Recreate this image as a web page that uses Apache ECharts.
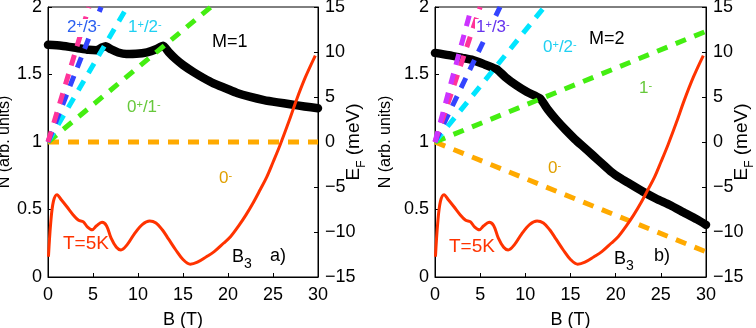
<!DOCTYPE html>
<html>
<head>
<meta charset="utf-8">
<script src="https://cdn.jsdelivr.net/npm/echarts@6/dist/echarts.min.js"></script>
<style>
    html, body { margin: 0; padding: 0; background: #fff; }
    #chart { width: 756px; height: 328px; }
</style>
</head>
<body>
<div id="chart"></div>
<script>
    // red curve, N (arb. units) at T=5K, same in both panels
    var bT5 = [0.05, 0.3, 0.6, 1.0, 1.5, 2.1, 2.8, 3.4, 3.9, 4.4, 4.9, 5.4, 6.0, 6.5, 7.0, 7.6, 8.1, 8.8, 9.6, 10.5,
        11.3, 12.0, 12.7, 13.4, 14.2, 15.0, 15.8, 16.6, 17.6, 18.5, 19.5, 20.3, 21.2, 22.0, 22.8, 23.6, 24.3, 25.0,
        25.8, 26.7, 27.6, 28.6, 29.7];
    var nT5 = [0.15, 0.40, 0.56, 0.61, 0.57, 0.52, 0.46, 0.42, 0.41, 0.37, 0.35, 0.38, 0.405, 0.38, 0.29, 0.22, 0.20,
        0.24, 0.32, 0.39, 0.415, 0.40, 0.35, 0.28, 0.20, 0.13, 0.095, 0.11, 0.15, 0.19, 0.25, 0.30, 0.38, 0.46, 0.55,
        0.65, 0.74, 0.85, 0.98, 1.14, 1.31, 1.48, 1.64];

    // black curve, E_F (meV), panel a (M=1)
    var bFermiA = [0, 1.5, 3.2, 4.5, 5.4, 6.0, 6.4, 7.0, 7.8, 8.7, 9.8, 11.0, 12.0, 12.8, 13.4, 14.2, 15.0, 16.2, 17.3,
        18.4, 19.8, 21.0, 22.4, 24.0, 25.5, 26.9, 28.5, 30];
    var eFermiA = [10.8, 10.7, 10.45, 10.25, 10.2, 10.5, 10.65, 10.3, 9.95, 9.78, 9.8, 9.97, 10.3, 10.7, 10.0, 9.2, 8.56,
        7.75, 7.1, 6.52, 5.95, 5.45, 5.03, 4.65, 4.4, 4.2, 3.95, 3.75];

    // black curve, E_F (meV), panel b (M=2)
    var bFermiB = [0, 1.5, 3.0, 4.2, 5.3, 6.4, 6.9, 7.8, 9.0, 10.2, 11.6, 12.5, 13.4, 14.5, 15.5, 16.5, 17.5, 18.5,
        19.5, 20.5, 21.5, 23.0, 24.5, 26.0, 27.5, 29.0, 30];
    var eFermiB = [9.9, 9.65, 9.35, 9.1, 8.7, 8.25, 8.05, 7.2, 6.3, 5.55, 4.85, 3.6, 2.5, 1.3, 0.3, -0.6, -1.5, -2.4,
        -3.3, -4.0, -4.6, -5.5, -6.3, -7.0, -7.8, -8.6, -9.2];

    // Landau levels (dashed), straight from the origin to these end points
    var levelsA = ['0-', '0+/1-', '1+/2-', '2+/3-', '3+/4-'];
    var levelEndBA = [30, 18.1, 8.8, 5.9, 4.55];
    var levelEndEA = [0, 15, 15, 15, 15];
    var levelsB = ['0-', '1-', '0+/2-', '1+/3-', '2+/4-', '3+/5-'];
    var levelEndBB = [30, 30, 12.1, 7.2, 5.0, 4.05];
    var levelEndEB = [-12.2, 12.3, 15, 15, 15, 15];

    var FONT = 'Liberation Sans';
    var levelColorsA = ['#ffaa00', '#44ee11', '#00e5ff', '#3344ff', '#ff3399'];
    var levelColorsB = ['#ffaa00', '#44ee11', '#00e5ff', '#3344ff', '#ff3399', '#cc33ff'];

    function zip(xs, ys) {
        var out = [];
        for (var i = 0; i < xs.length; i++) out.push([xs[i], ys[i]]);
        return out;
    }

    var grids = [
        {left: 48, top: 7, width: 270, height: 270, show: true, borderColor: '#000', borderWidth: 1, outerBoundsMode: 'none'},
        {left: 435, top: 7, width: 271, height: 270, show: true, borderColor: '#000', borderWidth: 1, outerBoundsMode: 'none'}
    ];

    var axisLine = {onZero: false, lineStyle: {color: '#000', width: 1}};
    var tick = {inside: true, length: 4, lineStyle: {color: '#000'}};
    var labelStyle = {color: '#000', fontFamily: FONT, fontSize: 18};

    var xAxes = [], yAxes = [];
    for (var g = 0; g < 2; g++) {
        xAxes.push({
            gridIndex: g, type: 'value', min: 0, max: 30, interval: 5,
            axisLine: axisLine, axisTick: tick, splitLine: {show: false},
            axisLabel: Object.assign({margin: 9}, labelStyle),
            name: 'B (T)', nameLocation: 'middle', nameGap: 34, nameMoveOverlap: false,
            nameTextStyle: {color: '#000', fontFamily: FONT, fontSize: 18}
        });
        yAxes.push({
            gridIndex: g, type: 'value', position: 'left', min: 0, max: 2, interval: 0.5,
            axisLine: axisLine, axisTick: tick, splitLine: {show: false},
            axisLabel: Object.assign({margin: 6}, labelStyle),
            name: 'N (arb. units)', nameLocation: 'middle', nameRotate: 90, nameGap: g === 0 ? 35 : 41,
            nameMoveOverlap: false,
            nameTextStyle: {color: '#000', fontFamily: FONT, fontSize: 16}
        });
        yAxes.push({
            gridIndex: g, type: 'value', position: 'right', min: -15, max: 15, interval: 5,
            axisLine: axisLine, axisTick: tick, splitLine: {show: false},
            axisLabel: Object.assign({
                margin: 7,
                formatter: function (v) { return String(v).replace('-', '\u2212'); }
            }, labelStyle),
            name: '{e|E}{f|F}{u| (meV)}', nameLocation: 'middle', nameRotate: 90, nameGap: 26,
            nameMoveOverlap: false,
            nameTextStyle: {
                color: '#000', fontFamily: FONT, fontSize: 19,
                rich: {
                    e: {fontSize: 19, fontFamily: FONT, color: '#000', lineHeight: 24, verticalAlign: 'top'},
                    f: {fontSize: 12, fontFamily: FONT, color: '#000', lineHeight: 12, verticalAlign: 'bottom'},
                    u: {fontSize: 19, fontFamily: FONT, color: '#000', lineHeight: 24, verticalAlign: 'top'}
                }
            }
        });
    }

    var series = [];
    function addPanel(g, bF, eF, ends, endE, colors) {
        series.push({
            type: 'line', xAxisIndex: g, yAxisIndex: 2 * g + 1, data: zip(bF, eF),
            showSymbol: false, smooth: 0.2, silent: true,
            lineStyle: {color: '#000', width: 8.5, cap: 'round', join: 'round'}
        });
        for (var i = 0; i < ends.length; i++) {
            series.push({
                type: 'line', xAxisIndex: g, yAxisIndex: 2 * g + 1, data: [[0, 0], [ends[i], endE[i]]],
                showSymbol: false, silent: true,
                lineStyle: {color: colors[i], width: 5, type: [11, 9], cap: 'butt'}
            });
        }
        series.push({
            type: 'line', xAxisIndex: g, yAxisIndex: 2 * g, data: zip(bT5, nT5),
            showSymbol: false, smooth: 0.35, silent: true,
            lineStyle: {color: '#ff3300', width: 3, join: 'round'}
        });
    }
    addPanel(0, bFermiA, eFermiA, levelEndBA, levelEndEA, levelColorsA);
    addPanel(1, bFermiB, eFermiB, levelEndBB, levelEndEB, levelColorsB);

    function txt(x, y, text, color, size, bg) {
        var rich = {
            m: {fontSize: size, fontFamily: FONT, fill: color, lineHeight: size + 1, verticalAlign: 'top'},
            s: {fontSize: 11, fontFamily: FONT, fill: color, lineHeight: 11, verticalAlign: 'top'},
            b: {fontSize: size, fontFamily: FONT, fill: color, lineHeight: size + 5, verticalAlign: 'top'},
            d: {fontSize: 14, fontFamily: FONT, fill: color, lineHeight: 14, verticalAlign: 'bottom'}
        };
        return {
            type: 'text', x: x, y: y, z: 100,
            style: {
                text: text, fill: color, fontFamily: FONT, fontSize: size, rich: rich,
                align: 'left', verticalAlign: 'top',
                backgroundColor: bg ? '#fff' : null, padding: bg ? [0, 1, 0, 1] : 0
            }
        };
    }

    var graphics = [
        txt(66, 19, '{m|2}{s|+}{m|/3}{s|-}', '#2a5ff0', 17, true),
        txt(127, 19, '{m|1}{s|+}{m|/2}{s|-}', '#1fd0f2', 17, true),
        txt(212, 33, '{m|M=1}', '#000', 18),
        txt(126, 99, '{m|0}{s|+}{m|/1}{s|-}', '#66c83a', 17, true),
        txt(218, 170, '{m|0}{s|-}', '#e0a000', 17, true),
        txt(63, 234, '{m|T=5K}', '#ff3300', 19),
        txt(232, 248, '{b|B}{d|3}', '#000', 18),
        txt(270, 247, '{m|a)}', '#000', 18),

        txt(475, 19, '{m|1}{s|+}{m|/3}{s|-}', '#6633ee', 17, true),
        txt(542, 39, '{m|0}{s|+}{m|/2}{s|-}', '#1fd0f2', 17, true),
        txt(589, 30, '{m|M=2}', '#000', 18),
        txt(638, 80, '{m|1}{s|-}', '#66c83a', 17, true),
        txt(547, 160, '{m|0}{s|-}', '#e0a000', 17, true),
        txt(449, 237, '{m|T=5K}', '#ff3300', 19),
        txt(614, 250, '{b|B}{d|3}', '#000', 18),
        txt(654, 247, '{m|b)}', '#000', 18)
    ];

    var chart = echarts.init(document.getElementById('chart'));
    chart.setOption({
        animation: false,
        backgroundColor: '#fff',
        grid: grids,
        xAxis: xAxes,
        yAxis: yAxes,
        series: series,
        graphic: graphics
    });
</script>
</body>
</html>
